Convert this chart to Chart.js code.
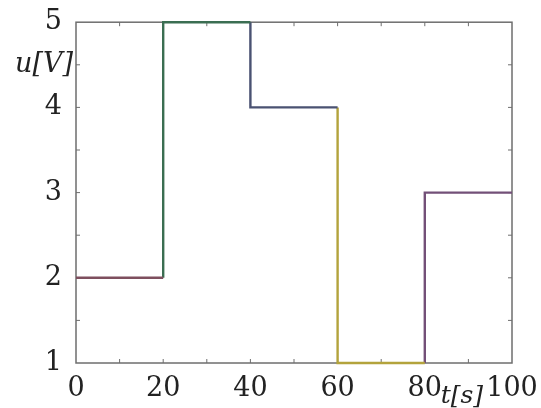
<!DOCTYPE html>
<html>
<head>
<meta charset="utf-8">
<script src="https://cdn.jsdelivr.net/npm/chart.js@4"></script>
<style>
  html, body { margin: 0; padding: 0; background: #fff; }
  #wrap { width: 541px; height: 408px; }
</style>
</head>
<body>
<div id="wrap"><canvas id="chart"></canvas></div>
<script>
// switching times [s] and the voltage level held after each one [V]
const times = [0, 20, 40, 60, 80, 100];
const levels = [2, 5, 4, 1, 3];
const colors = ['#7e4f5e', '#3b6e52', '#4a5272', '#b3a33c', '#735078'];
const xTicks = [0, 20, 40, 60, 80, 100];
const yTicks = [1, 2, 3, 4, 5];

const serif = '"DejaVu Serif", "Liberation Serif", serif';

// one dataset per level; each starts with the jump from the previous level
const datasets = levels.map((lv, i) => {
  const pts = [];
  if (i > 0) pts.push({x: times[i], y: levels[i - 1]});
  pts.push({x: times[i], y: lv});
  pts.push({x: times[i + 1], y: lv});
  return {
    data: pts,
    borderColor: colors[i],
    borderWidth: 2.4,
    pointRadius: 0,
    tension: 0,
    fill: false,
    clip: false
  };
});

// box around the plot, inward minor ticks and the axis names
const frame = {
  id: 'frame',
  beforeDatasetsDraw(chart) {
    const {ctx, chartArea: a, scales: {x, y}} = chart;
    ctx.save();
    ctx.strokeStyle = '#6e6e6e';
    ctx.lineWidth = 1.5;
    ctx.strokeRect(a.left, a.top, a.right - a.left, a.bottom - a.top);
    ctx.lineWidth = 1;
    ctx.beginPath();
    for (let t = 10; t < 100; t += 10) {
      const px = x.getPixelForValue(t);
      ctx.moveTo(px, a.bottom); ctx.lineTo(px, a.bottom - 4);
      ctx.moveTo(px, a.top); ctx.lineTo(px, a.top + 4);
    }
    for (let v = 1.5; v < 5; v += 0.5) {
      const py = y.getPixelForValue(v);
      ctx.moveTo(a.left, py); ctx.lineTo(a.left + 4, py);
      ctx.moveTo(a.right, py); ctx.lineTo(a.right - 4, py);
    }
    ctx.stroke();
    ctx.restore();
  },
  afterDraw(chart) {
    const {ctx, chartArea: a, scales: {x, y}} = chart;
    ctx.save();
    ctx.fillStyle = '#222';
    ctx.font = 'italic 27px ' + serif;
    ctx.textAlign = 'right';
    ctx.textBaseline = 'middle';
    ctx.fillText('u[V]', a.left - 3, y.getPixelForValue(4.5));
    ctx.textAlign = 'center';
    ctx.textBaseline = 'alphabetic';
    ctx.font = 'italic 25px ' + serif;
    ctx.fillText('t[s]', x.getPixelForValue(88.5), 403);
    ctx.restore();
  }
};

new Chart(document.getElementById('chart'), {
  type: 'line',
  data: {datasets},
  plugins: [frame],
  options: {
    responsive: true,
    maintainAspectRatio: false,
    animation: false,
    layout: {padding: {top: 21, right: 29, left: 0, bottom: 0}},
    plugins: {legend: {display: false}, tooltip: {enabled: false}},
    scales: {
      x: {
        type: 'linear',
        min: 0, max: 100,
        grid: {display: false},
        border: {display: false},
        afterBuildTicks: s => { s.ticks = xTicks.map(v => ({value: v})); },
        afterFit: s => { s.height = 45; },
        ticks: {
          color: '#222',
          padding: 2,
          maxRotation: 0,
          font: {family: serif, size: 27}
        }
      },
      y: {
        type: 'linear',
        min: 1, max: 5,
        grid: {display: false},
        border: {display: false},
        afterBuildTicks: s => { s.ticks = yTicks.map(v => ({value: v})); },
        afterFit: s => { s.width = 76; },
        ticks: {
          color: '#222',
          padding: 6,
          font: {family: serif, size: 27}
        }
      }
    }
  }
});
</script>
</body>
</html>
